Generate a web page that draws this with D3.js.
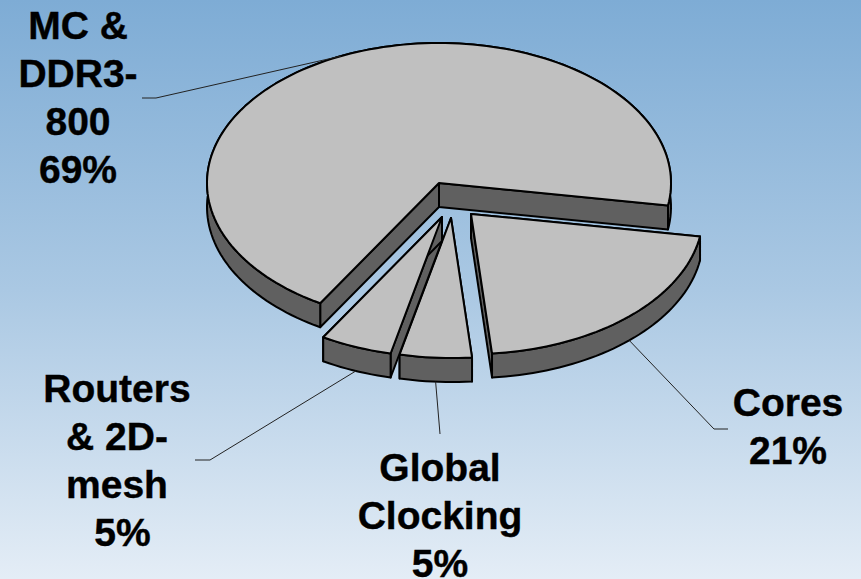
<!DOCTYPE html>
<html>
<head>
<meta charset="utf-8">
<script src="https://cdn.jsdelivr.net/npm/d3@7"></script>
<style>
  html, body { margin: 0; padding: 0; background: #fff; }
  svg { display: block; }
  text { font-family: "Liberation Sans", Arial, sans-serif; font-weight: bold; font-size: 39px; fill: #000; stroke: #000; stroke-width: 0.4px; }
</style>
</head>
<body>
<div id="chart"></div>
<script>
// Power breakdown shares
const categories = ["MC & DDR3-800", "Cores", "Global Clocking", "Routers & 2D-mesh"];
const shares = [69, 21, 5, 5];

// Label text, wrapped line by line
const labelLines = [
  ["MC &", "DDR3-", "800", "69%"],
  ["Cores", "21%"],
  ["Global", "Clocking", "5%"],
  ["Routers", "& 2D-", "mesh", " 5%"]
];

const width = 861, height = 579;

// Pie geometry
const rx = 232, ry = 140, depth = 24;
const centers = [[439, 183], [471, 214], [451, 218], [442, 217]];

// Where each label sits, and the elbow of its leader line
const labelPos = [[78, 39], [788, 416], [440, 481], [117, 402]];
const elbows = [[[156, 98], [142, 98]], [[714, 429], [728, 429]], [[440, 434], [440, 434]], [[210, 460], [195, 460]]];
const lineGap = 48;

const svg = d3.select("#chart").append("svg")
  .attr("width", width)
  .attr("height", height);

// Background wash, darker at the top
const grad = svg.append("defs").append("linearGradient")
  .attr("id", "bg")
  .attr("x1", 0).attr("y1", 0).attr("x2", 0).attr("y2", 1);
grad.append("stop").attr("offset", "0%").attr("stop-color", "#7eacd5");
grad.append("stop").attr("offset", "50%").attr("stop-color", "#aac8e3");
grad.append("stop").attr("offset", "100%").attr("stop-color", "#e4edf6");

svg.append("rect")
  .attr("width", width)
  .attr("height", height)
  .attr("fill", "url(#bg)");

// Slices run clockwise from the lower left
const pie = d3.pie()
  .sort(null)
  .startAngle(210.8 * Math.PI / 180)
  .endAngle(570.8 * Math.PI / 180);
const slices = pie(shares);

const xScale = d3.scaleLinear().domain([-1, 1]).range([-rx, rx]);
const yScale = d3.scaleLinear().domain([-1, 1]).range([-ry, ry]);

// Project a pie angle onto the tilted ellipse
function project(i, angle, drop) {
  return [
    centers[i][0] + xScale(Math.sin(angle)),
    centers[i][1] + yScale(-Math.cos(angle)) + (drop || 0)
  ];
}

function rimPoints(i, d, drop) {
  const steps = Math.ceil((d.endAngle - d.startAngle) / 0.03);
  return d3.range(steps + 1).map(k =>
    project(i, d.startAngle + (d.endAngle - d.startAngle) * k / steps, drop));
}

const line = d3.line();

const pieGroup = svg.append("g");

slices.forEach((d, i) => {
  const g = pieGroup.append("g").attr("class", "slice");
  const c = centers[i];
  const walls = [
    // the two cut faces go first so the rim hides their far ends
    [c, project(i, d.startAngle), project(i, d.startAngle, depth), [c[0], c[1] + depth]],
    [c, project(i, d.endAngle), project(i, d.endAngle, depth), [c[0], c[1] + depth]],
    // outer rim
    rimPoints(i, d, 0).concat(rimPoints(i, d, depth).reverse())
  ];

  g.selectAll("path.wall")
    .data(walls)
    .enter()
    .append("path")
    .attr("class", "wall")
    .attr("d", w => line(w) + "Z")
    .attr("fill", "#606060")
    .attr("stroke", "#000")
    .attr("stroke-width", 2)
    .attr("stroke-linejoin", "round");

  // Top face
  g.append("path")
    .attr("class", "top")
    .attr("d", line([c].concat(rimPoints(i, d, 0))) + "Z")
    .attr("fill", "#c0c0c0")
    .attr("stroke", "#000")
    .attr("stroke-width", 2)
    .attr("stroke-linejoin", "round");
});

// Leader lines leave each slice at its middle angle
slices.forEach((d, i) => {
  const mid = (d.startAngle + d.endAngle) / 2;
  const front = Math.cos(mid) < 0;
  const pts = [project(i, mid, front ? depth : 0)].concat(elbows[i]);
  svg.append("path")
    .attr("d", line(pts))
    .attr("fill", "none")
    .attr("stroke", "#222")
    .attr("stroke-width", 1);
});

// Labels
labelLines.forEach((lines, i) => {
  const t = svg.append("text")
    .attr("text-anchor", "middle")
    .attr("xml:space", "preserve")
    .attr("aria-label", categories[i]);
  lines.forEach((txt, k) => {
    t.append("tspan")
      .attr("x", labelPos[i][0])
      .attr("y", labelPos[i][1] + k * lineGap)
      .text(txt);
  });
});
</script>
</body>
</html>
